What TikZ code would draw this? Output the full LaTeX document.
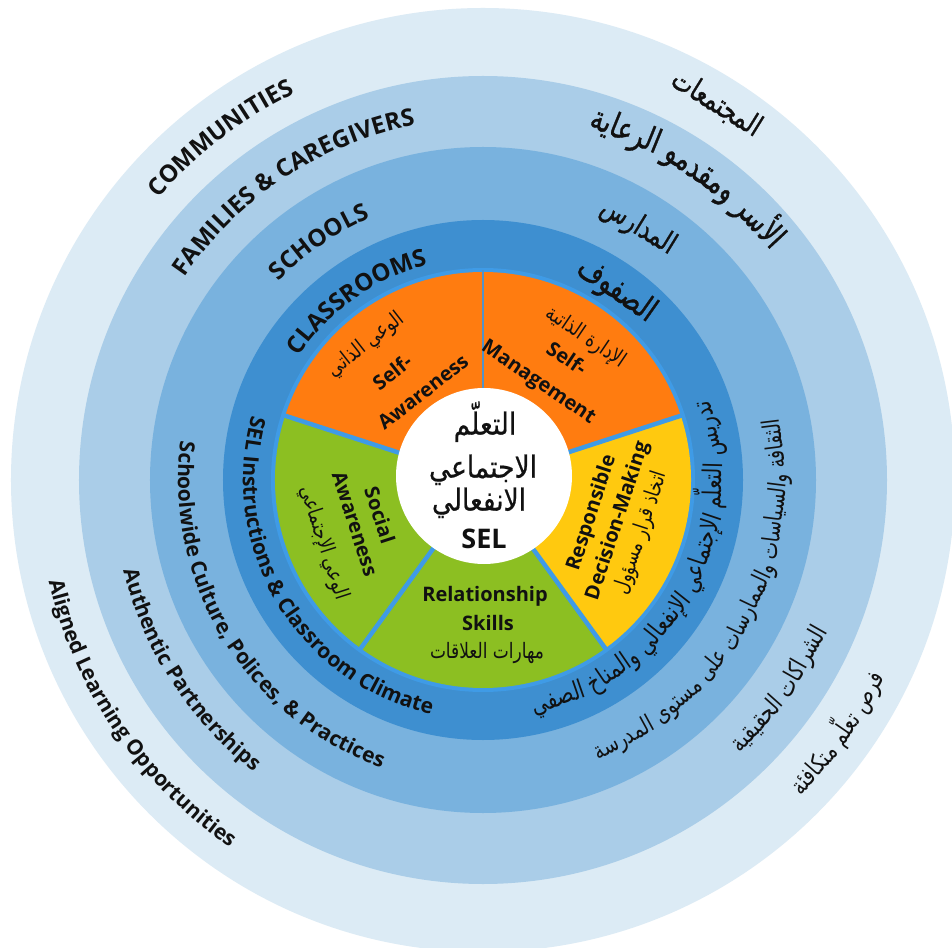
\documentclass[tikz,border=0pt]{standalone}
\usepackage{fontspec}
\usepackage{graphicx}
\usetikzlibrary{decorations.text}
\setmainfont{Open Sans}
\newfontfamily\arfont[Script=Arabic]{DejaVu Sans}
\newfontfamily\arbold[Script=Arabic,FakeBold=1.2]{DejaVu Sans}
\newfontfamily\armed[Script=Arabic,FakeBold=0.6]{DejaVu Sans}
\TeXXeTstate=1
\definecolor{ringA}{HTML}{DCEBF5}
\definecolor{ringB}{HTML}{AACDE8}
\definecolor{ringC}{HTML}{79B2DE}
\definecolor{ringD}{HTML}{3E8FD0}
\definecolor{sepc}{HTML}{3F9BE6}
\definecolor{petO}{HTML}{FF7C10}
\definecolor{petY}{HTML}{FFC90F}
\definecolor{petG}{HTML}{8CBF22}
\definecolor{ink}{HTML}{111111}
\newlength\wl
\def\arVS{1.3}
% Arabic words along an arc (prepared before the picture):
% #1 target macro, #2 mid radius, #3 centre angle, #4 dir (+1 ccw tops inward, -1 cw tops outward),
% #5 font switch, #6 target arc length, #7 words in visual order
\newcommand\PrepArc[7]{%
  \gdef\arTot{0}\gdef\arN{0}%
  \foreach \w in {#7}{%
    \settowidth\wl{\fontsize{20pt}{24pt}#5\beginR\w\endR}%
    \pgfmathsetmacro\tmpa{\arTot+\wl}\global\let\arTot\tmpa
    \pgfmathsetmacro\tmpa{\arN+1}\global\let\arN\tmpa}%
  \pgfmathsetmacro\arK{#6/max(1,\arTot+(\arN-1)*6.4)}%
  \global\let\arK\arK
  \pgfmathsetmacro\arFS{20*\arK}%
  \global\let\arFS\arFS
  \pgfmathsetmacro\tmpa{#3-(#4)*(#6/2)/#2*57.29578}\global\let\arA\tmpa
  \gdef#1{}%
  \foreach \w in {#7}{%
    \settowidth\wl{\fontsize{20pt}{24pt}#5\beginR\w\endR}%
    \pgfmathsetmacro\wa{\arA+(#4)*(\wl*\arK/2)/#2*57.29578}%
    \pgfmathsetmacro\wr{\wa+(#4)*90}%
    \xdef#1{\unexpanded\expandafter{#1}\noexpand\node[arword,rotate=\wr] at (\wa:#2) {\noexpand\scalebox{1}[\arVS]{\noexpand\fontsize{\arFS pt}{\arFS pt}\unexpanded{#5}\noexpand\beginR\unexpanded\expandafter{\w}\noexpand\endR}};}%
    \pgfmathsetmacro\tmpa{\arA+(#4)*(\wl*\arK+6.4*\arK)/#2*57.29578}\global\let\arA\tmpa}%
}
\newcommand\FitFS[4]{\settowidth\wl{\fontsize{20pt}{24pt}#2#3}\pgfmathsetmacro#1{20*#4/max(1,\wl)}\global\let#1#1}
\AtBeginDocument{%
  \PrepArc\arcTa{437}{58.2}{-1}{\arbold}{100}{المجتمعات}%
  \PrepArc\arcTb{370}{56}{-1}{\arbold}{225}{الرعاية,ومقدمو,الأسر}%
  \PrepArc\arcTc{292}{58.5}{-1}{\arbold}{82}{المدارس}%
  \PrepArc\arcTd{226}{54.9}{-1}{\arbold}{88}{الصفوف}%
  \PrepArc\arcBa{236}{-29.1}{1}{\arfont}{400}{الصفي,والمناخ,الإنفعالي,الإجتماعي,التعلّم,تدريس}%
  \PrepArc\arcBb{299}{-27.9}{1}{\arfont}{415}{المدرسة,مستوى,على,والممارسات,والسياسات,الثقافة}%
  \PrepArc\arcBc{372}{-35.2}{1}{\arfont}{150}{الحقيقية,الشراكات}%
  \PrepArc\arcBd{445}{-35.5}{1}{\arfont}{145}{متكافئة,تعلّم,فرص}%
  \FitFS\pfs{\arfont}{\beginR مهارات العلاقات\endR}{114}%
  \FitFS\cfs{\armed}{\beginR الاجتماعي\endR}{108}%
}
\newcommand\capf{\fontsize{24pt}{28pt}\selectfont\bfseries\color{ink}}
\newcommand\lowf{\fontsize{21pt}{25pt}\selectfont\bfseries\color{ink}}
\newcommand\pet[1]{\scalebox{1}[1.25]{\fontsize{\pfs pt}{\pfs pt}\arfont\beginR #1\endR}}
\newcommand\cen[1]{\scalebox{1}[1.15]{\fontsize{\cfs pt}{\cfs pt}\armed\beginR #1\endR}}
\tikzset{
  arctext/.style={decorate,decoration={text along path,text align=center,text={#1}}},
  sepline/.style={draw=sepc,line width=4.5pt},
  enline/.style={font=\fontsize{20pt}{24pt}\selectfont\bfseries,text=ink,inner sep=0pt},
  arword/.style={inner sep=0pt,anchor=mid,text=ink}
}
\begin{document}
\begin{tikzpicture}[x=1pt,y=1pt]
\useasboundingbox (-483,-467) rectangle (469,480);
\clip (-483,-467) rectangle (469,480);
\fill[white] (-483,-467) rectangle (469,480);
% rings
\fill[ringA] (0,0) circle[radius=472];
\fill[ringB] (0,0) circle[radius=404];
\fill[ringC] (0,0) circle[radius=333];
\fill[ringD] (0,0) circle[radius=260];
\fill[sepc] (0,0) circle[radius=212];
% petals
\fill[petO] (0,0) -- (90:208) arc[start angle=90,end angle=162,radius=208] -- cycle;
\fill[petO] (0,0) -- (18:208) arc[start angle=18,end angle=90,radius=208] -- cycle;
\fill[petY] (0,0) -- (-54:208) arc[start angle=-54,end angle=18,radius=208] -- cycle;
\fill[petG] (0,0) -- (-126:208) arc[start angle=-126,end angle=-54,radius=208] -- cycle;
\fill[petG] (0,0) -- (162:208) arc[start angle=162,end angle=234,radius=208] -- cycle;
\foreach \a in {18,-54,-126,162} \draw[sepline] (0,0) -- (\a:210);
\draw[draw=sepc!70!gray,line width=2.5pt] (0,0) -- (90:210);
\fill[white] (1,4) circle[radius=88];
% English, upper left (tops outward)
\path[arctext={|\capf|COMMUNITIES}] (187.5:430) arc[start angle=187.5,end angle=67.5,radius=430];
\path[arctext={|\capf|FAMILIES {\&} CAREGIVERS}] (183.3:361) arc[start angle=183.3,end angle=63.3,radius=361];
\path[arctext={|\capf|SCHOOLS}] (184.5:285) arc[start angle=184.5,end angle=64.5,radius=285];
\path[arctext={|\capf|CLASSROOMS}] (185.3:222) arc[start angle=185.3,end angle=65.3,radius=222];
% English, lower left (tops inward)
\path[arctext={|\lowf|SEL Instructions {\&} Classroom Climate}] (136:240) arc[start angle=136,end angle=286,radius=240];
\path[arctext={|\lowf|Schoolwide Culture, Polices, {\&} Practices}] (141.6:305) arc[start angle=141.6,end angle=281.6,radius=305];
\path[arctext={|\lowf|Authentic Partnerships}] (143:371) arc[start angle=143,end angle=283,radius=371];
\path[arctext={|\lowf|Aligned Learning Opportunities}] (144.3:446) arc[start angle=144.3,end angle=284.3,radius=446];
% Arabic along arcs
\arcTa \arcTb \arcTc \arcTd
\arcBa \arcBb \arcBc \arcBd
% petal texts
\node[arword,rotate=38] (saA) at (-115,133) {\pet{الوعي الذاتي}};
\node[enline,rotate=38] (saB) at (-91,108) {Self-};
\node[enline,rotate=38] (saC) at (-60,88) {Awareness};
\node[arword,rotate=-34] (smA) at (101,140) {\pet{الإدارة الذاتية}};
\node[enline,rotate=-34] (smB) at (84,122) {Self-};
\node[enline,rotate=-34] (smC) at (55,97) {Management};
\node[enline,rotate=72] (rdA) at (109,-33) {Responsible};
\node[enline,rotate=72] (rdB) at (135,-41) {Decision-Making};
\node[arword,rotate=72] (rdC) at (161,-54) {\pet{اتخاذ قرار مسؤول}};
\node[enline] (rsA) at (2,-116) {Relationship};
\node[enline] (rsB) at (5,-143) {Skills};
\node[arword] (rsC) at (4,-176) {\pet{مهارات العلاقات}};
\node[enline,rotate=-72] (soA) at (-103,-35) {Social};
\node[enline,rotate=-72] (soB) at (-128,-44) {Awareness};
\node[arword,rotate=-72] (soC) at (-162,-64) {\pet{الوعي الإجتماعي}};
% centre
\node[arword] (ce1) at (2,48) {\cen{التعلّم}};
\node[arword] (ce2) at (0,5) {\cen{الاجتماعي}};
\node[arword] (ce3) at (-4,-28) {\cen{الانفعالي}};
\node[enline,font=\fontsize{27pt}{30pt}\selectfont\bfseries] (ce4) at (1,-59) {SEL};
\end{tikzpicture}
\end{document}
